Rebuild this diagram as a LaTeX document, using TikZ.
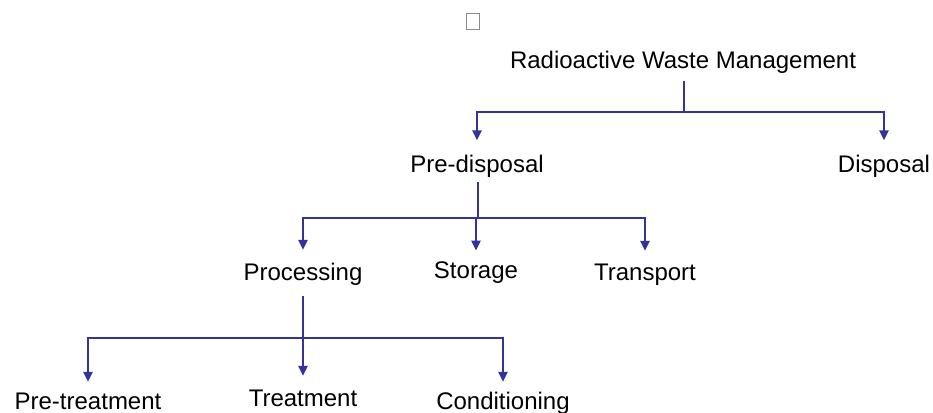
\documentclass[tikz,border=0pt]{standalone}
\usepackage{fontspec}
\setmainfont{Liberation Sans}
\usetikzlibrary{arrows.meta}
\definecolor{lineblue}{RGB}{51,51,153}
\begin{document}
\begin{tikzpicture}[x=1pt,y=1pt,
  lbl/.style={inner sep=0pt,anchor=base,font=\fontsize{24}{28}\selectfont,text=black},
  ln/.style={draw=lineblue,line width=2.4pt},
  arr/.style={ln,-{Triangle[length=10pt,width=9pt]}}]
\useasboundingbox (0,0) rectangle (933,-412);
% small grey box
\node[draw=black!45,fill=white,line width=0.8pt,minimum width=13pt,minimum height=16pt,inner sep=0pt] (box) at (472.5,-21) {};
% labels
\node[lbl] (title) at (683,-68) {Radioactive Waste Management};
\node[lbl] (pre) at (477,-172) {Pre-disposal};
\node[lbl] (dis) at (884,-172) {Disposal};
\node[lbl] (proc) at (303,-280) {Processing};
\node[lbl] (stor) at (476,-278) {Storage};
\node[lbl] (trans) at (645,-280) {Transport};
\node[lbl] (pret) at (88,-409) {Pre-treatment};
\node[lbl] (treat) at (303,-406) {Treatment};
\node[lbl] (cond) at (503,-409) {Conditioning};
% junctions
\coordinate (j1) at (684,-112);
\coordinate (j2) at (478,-218);
\coordinate (j3) at (303,-338);
% level 1
\draw[ln] ([xshift=1pt,yshift=-8pt]title.south) coordinate (t0) -- (t0 |- j1);
\draw[arr] (j1) -| ([yshift=14pt]pre.north);
\draw[arr] (j1) -| ([yshift=14pt]dis.north);
% level 2
\draw[ln] ([xshift=1pt,yshift=-5pt]pre.south) coordinate (t1) -- (t1 |- j2);
\draw[arr] (j2) -| ([yshift=12.5pt]proc.north);
\draw[arr] (j2) -| ([yshift=10.5pt]stor.north);
\draw[arr] (j2) -| ([yshift=12.5pt]trans.north);
% level 3
\draw[ln] ([yshift=-11pt]proc.south) coordinate (t2) -- (t2 |- j3);
\draw[arr] (j3) -| ([yshift=10.5pt]pret.north);
\draw[arr] (j3) -- ([yshift=13.5pt]treat.north);
\draw[arr] (j3) -| ([yshift=9.5pt]cond.north);
\end{tikzpicture}
\end{document}
